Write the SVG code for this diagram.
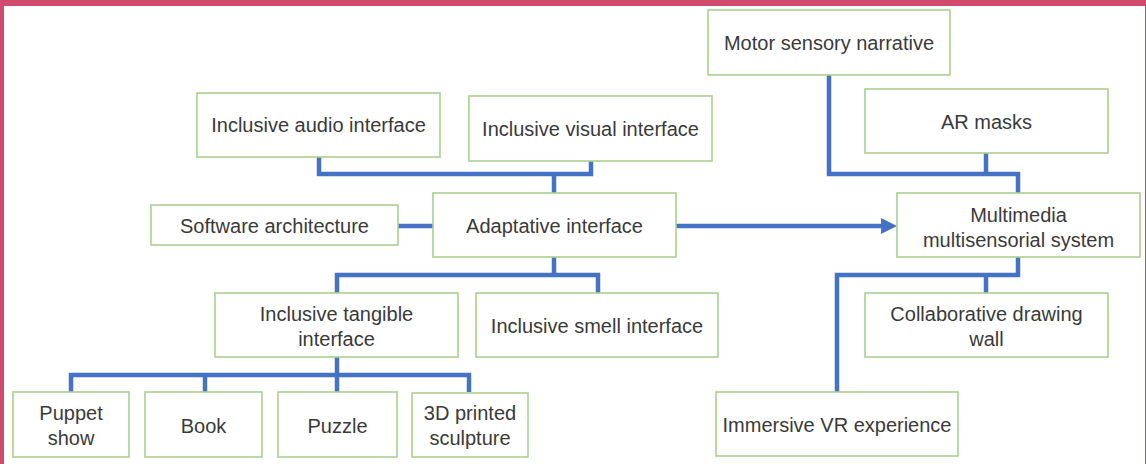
<svg xmlns="http://www.w3.org/2000/svg" width="1146" height="464" viewBox="0 0 1146 464">
<defs>
<style>
.box{fill:#ffffff;stroke:#a9d08e;stroke-width:1.6}
.t{font-family:"Liberation Sans",Arial,sans-serif;font-size:20px;fill:#3a3a3a;text-anchor:middle;dominant-baseline:central}
.c{fill:none;stroke:#4472c4;stroke-width:4.5;stroke-linejoin:miter;stroke-linecap:butt}
</style>
<marker id="ah" viewBox="0 0 10 10" refX="5.6" refY="5" markerWidth="16" markerHeight="16" orient="auto" markerUnits="userSpaceOnUse">
<path d="M0,0 L10,5 L0,10 z" fill="#4472c4"/>
</marker>
</defs>
<rect x="0" y="0" width="1146" height="464" fill="#d04a6e"/>
<rect x="4" y="6" width="1141" height="458" fill="#ffffff"/>
<g id="connectors">
<path class="c" d="M319,157 V174 H591 V161"/>
<path class="c" d="M554,174 V193"/>
<path class="c" d="M398,226 H433"/>
<path class="c" d="M676,226 H890" marker-end="url(#ah)"/>
<path class="c" d="M829,75 V174 H1018 V193"/>
<path class="c" d="M986,153 V174"/>
<path class="c" d="M554,257 V275"/>
<path class="c" d="M337,293 V275 H598 V293"/>
<path class="c" d="M337,357 V375"/>
<path class="c" d="M71,392 V375 H469 V392"/>
<path class="c" d="M205,375 V392"/>
<path class="c" d="M337,375 V392"/>
<path class="c" d="M1018,257 V275 H837 V392"/>
<path class="c" d="M986,275 V293"/>
</g>
<g id="motor"><rect class="box" x="708" y="10" width="242" height="65"/><text class="t" x="829" y="43">Motor sensory narrative</text></g>
<g id="audio"><rect class="box" x="197" y="93" width="243" height="64"/><text class="t" x="318.5" y="125">Inclusive audio interface</text></g>
<g id="visual"><rect class="box" x="469" y="96" width="243" height="65"/><text class="t" x="590.5" y="129">Inclusive visual interface</text></g>
<g id="armasks"><rect class="box" x="865" y="89" width="243" height="64"/><text class="t" x="986.5" y="122">AR masks</text></g>
<g id="software"><rect class="box" x="151" y="205" width="247" height="40"/><text class="t" x="274.5" y="226">Software architecture</text></g>
<g id="adaptive"><rect class="box" x="433" y="193" width="243" height="64"/><text class="t" x="554.5" y="226">Adaptative interface</text></g>
<g id="multimedia"><rect class="box" x="897" y="193" width="243" height="64"/><text class="t" x="1018.5" y="215">Multimedia</text><text class="t" x="1018.5" y="240">multisensorial system</text></g>
<g id="tangible"><rect class="box" x="215" y="293" width="243" height="64"/><text class="t" x="336.5" y="314">Inclusive tangible</text><text class="t" x="336.5" y="339">interface</text></g>
<g id="smell"><rect class="box" x="476" y="293" width="242" height="64"/><text class="t" x="597" y="326">Inclusive smell interface</text></g>
<g id="collab"><rect class="box" x="865" y="293" width="243" height="64"/><text class="t" x="986.5" y="314">Collaborative drawing</text><text class="t" x="986.5" y="339">wall</text></g>
<g id="puppet"><rect class="box" x="13" y="392" width="116" height="65"/><text class="t" x="71" y="413">Puppet</text><text class="t" x="71" y="438">show</text></g>
<g id="book"><rect class="box" x="145" y="392" width="117" height="65"/><text class="t" x="203.5" y="426">Book</text></g>
<g id="puzzle"><rect class="box" x="278" y="392" width="119" height="65"/><text class="t" x="337.5" y="426">Puzzle</text></g>
<g id="sculpture"><rect class="box" x="412" y="393" width="116" height="64"/><text class="t" x="470" y="413">3D printed</text><text class="t" x="470" y="438">sculpture</text></g>
<g id="vr"><rect class="box" x="716" y="392" width="242" height="64"/><text class="t" x="837" y="425">Immersive VR experience</text></g>
</svg>
